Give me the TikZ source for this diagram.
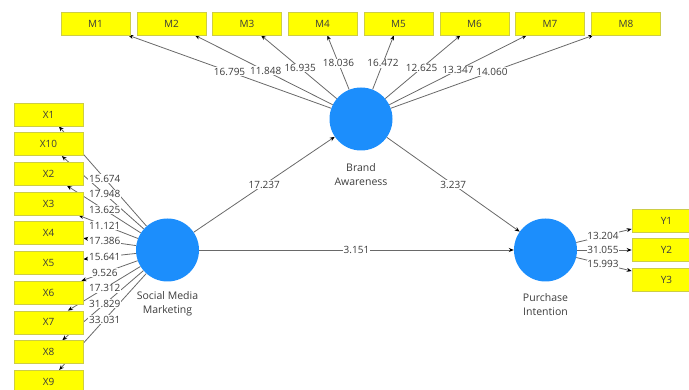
\documentclass[tikz,border=0pt]{standalone}
\usepackage{fontspec}
\setmainfont{Open Sans}
\usetikzlibrary{arrows.meta}
\pgfdeclarelayer{edges}
\pgfdeclarelayer{labels}
\pgfsetlayers{edges,labels,main}
\definecolor{ylw}{RGB}{255,255,0}
\definecolor{ylwbd}{RGB}{205,205,70}
\definecolor{lvblue}{RGB}{28,142,252}
\definecolor{txt}{RGB}{60,60,60}
\definecolor{edgec}{RGB}{105,105,105}
\tikzset{
  ind/.style={draw=ylwbd, line width=0.6pt, fill=ylw, minimum width=69pt, minimum height=23pt, inner sep=0pt, font=\fontsize{10}{12}\selectfont, text=txt},
  lv/.style={circle, fill=lvblue, minimum size=63pt, inner sep=0pt},
  lvlab/.style={align=center, font=\fontsize{10.5}{14}\selectfont, text=txt},
  arr/.style={draw=edgec, line width=0.8pt, -{Stealth[length=5pt,width=4pt,black]}},
  lbl/.style={fill=white, inner sep=0.8pt, font=\fontsize{10}{12}\selectfont, text=txt}
}
\begin{document}
\begin{tikzpicture}[x=1pt,y=-1pt]
\useasboundingbox (0,0) rectangle (689,390);
% latent variables
\node[lv] (ba) at (361,119) {};
\node[lv] (smm) at (167.5,250) {};
\node[lv] (pi) at (545.5,250) {};
\node[lvlab] (balab) at (361,174.5) {Brand\\Awareness};
\node[lvlab] (smmlab) at (167.5,303.5) {Social Media\\Marketing};
\node[lvlab] (pilab) at (545.5,304.5) {Purchase\\Intention};
% indicators
\foreach \n/\x in {1/95.5,2/171.5,3/247,4/322.5,5/398.5,6/474.5,7/550,8/626}
  \node[ind] (m\n) at (\x,23.5) {M\n};
\foreach \t [count=\i from 0] in {1,10,2,3,4,5,6,7,8,9}
  \node[ind] (x\t) at (48.5,114.5+29.7*\i) {X\t};
\foreach \n/\y in {1/220.5,2/250,3/279.5}
  \node[ind] (y\n) at (666.5,\y) {Y\n};
% edges
\begin{pgfonlayer}{edges}
\foreach \n in {1,...,8} \draw[arr] (ba) -- (m\n);
\foreach \t in {1,10,2,3,4,5,6,7,8,9} \draw[arr] (smm) -- (x\t);
\foreach \n in {1,2,3} \draw[arr] (pi) -- (y\n);
\draw[arr] (smm) -- (ba);
\draw[arr] (ba) -- (pi);
\draw[arr] (smm) -- (pi);
\end{pgfonlayer}
% labels
\begin{pgfonlayer}{labels}
\foreach \n/\p/\v in {1/0.495/16.795,2/0.503/11.848,3/0.534/16.935,4/0.586/18.036,5/0.586/16.472,6/0.534/12.625,7/0.513/13.347,8/0.494/14.060}
  \path (ba.center) -- node[lbl,pos=\p] {\v} (m\n.center);
\foreach \t/\v in {1/15.674,10/17.948,2/13.625,3/11.121,4/17.386,5/15.641,6/9.526,7/17.312,8/31.829,9/33.031}
  \path (smm.center) -- node[lbl,pos=0.527] {\v} (x\t.center);
\foreach \n/\v in {1/13.204,2/31.055,3/15.993}
  \path (pi.center) -- node[lbl,pos=0.475] {\v} (y\n.center);
\path (smm.center) -- node[lbl,pos=0.5] {17.237} (ba.center);
\path (ba.center) -- node[lbl,pos=0.5] {3.237} (pi.center);
\path (smm.center) -- node[lbl,pos=0.5] {3.151} (pi.center);
\end{pgfonlayer}
\end{tikzpicture}
\end{document}
